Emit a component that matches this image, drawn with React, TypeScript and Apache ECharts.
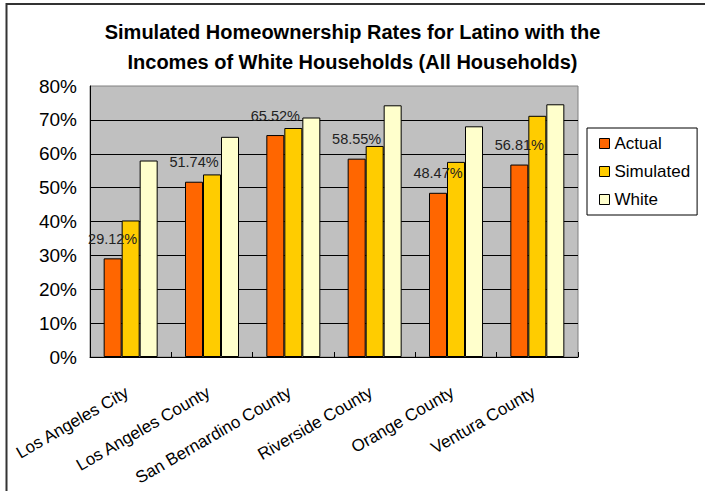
import React, { useEffect, useRef } from "react";
import * as echarts from "echarts";

const categories = [
  "Los Angeles City",
  "Los Angeles County",
  "San Bernardino County",
  "Riverside County",
  "Orange County",
  "Ventura County",
];
const actual = [29.12, 51.74, 65.52, 58.55, 48.47, 56.81];
const simulated = [40.3, 53.9, 67.6, 62.3, 57.6, 71.2];
const white = [58.0, 65.0, 70.7, 74.3, 68.1, 74.6];
const seriesNames = ["Actual", "Simulated", "White"];
const seriesColors = ["#FF6600", "#FFCC00", "#FFFFCC"];
const titleLines = [
  "Simulated Homeownership Rates for Latino with the",
  "Incomes of White Households (All Households)",
];

const FONT = "'Liberation Sans', Arial, Helvetica, sans-serif";

export default function App() {
  const ref = useRef<HTMLDivElement>(null);
  useEffect(() => {
    if (!ref.current) return;
    const chart = echarts.init(ref.current, null, { renderer: "svg" });
    const values = [actual, simulated, white];
    chart.setOption({
      animation: false,
      backgroundColor: "#ffffff",
      textStyle: { fontFamily: FONT },
      title: {
        text: titleLines.join("\n"),
        left: "center",
        top: 17,
        padding: [0, 0, 0, 14],
        textStyle: {
          fontFamily: FONT,
          fontSize: 20,
          fontWeight: "bold",
          color: "#000",
          lineHeight: 30,
        },
      },
      graphic: [
        {
          type: "polyline",
          shape: { points: [[6.5, 491], [6.5, 4], [705, 4]] },
          style: { stroke: "#333", lineWidth: 2, fill: null },
          silent: true,
        },
      ],
      legend: {
        orient: "vertical",
        left: 587,
        top: 128,
        padding: [7, 7, 7, 12],
        itemGap: 11,
        itemWidth: 10,
        itemHeight: 10,
        itemTextGap: 5,
        icon: "rect",
        borderColor: "#000",
        borderWidth: 1,
        backgroundColor: "#fff",
        textStyle: { fontFamily: FONT, fontSize: 17, color: "#000" },
        itemStyle: { borderColor: "#000", borderWidth: 1 },
        data: seriesNames,
      },
      grid: {
        left: 90,
        top: 86,
        width: 488,
        height: 271,
        show: true,
        backgroundColor: "#C0C0C0",
        borderColor: "#808080",
        borderWidth: 1,
      },
      xAxis: {
        type: "category",
        data: categories,
        axisLine: { show: true, lineStyle: { color: "#000", width: 1 } },
        axisTick: {
          show: true,
          inside: true,
          length: 5,
          alignWithLabel: false,
          lineStyle: { color: "#000" },
        },
        axisLabel: {
          interval: 0,
          rotate: 30,
          margin: 32,
          padding: [0, 4, 0, 0],
          fontFamily: FONT,
          fontSize: 17,
          color: "#000",
        },
      },
      yAxis: {
        type: "value",
        min: 0,
        max: 80,
        interval: 10,
        axisLine: { show: true, lineStyle: { color: "#000", width: 1 } },
        axisTick: { show: false },
        axisLabel: {
          formatter: "{value}%",
          margin: 13,
          fontFamily: FONT,
          fontSize: 19,
          color: "#000",
        },
        splitLine: {
          show: true,
          showMaxLine: false,
          lineStyle: { color: "#000", width: 1 },
        },
      },
      series: seriesNames.map((name, i) => ({
        name,
        type: "bar",
        data: values[i],
        barWidth: 18,
        barGap: "0%",
        itemStyle: { color: seriesColors[i], borderColor: "#000", borderWidth: 1 },
        label:
          i === 0
            ? {
                show: true,
                position: "top",
                distance: 12,
                formatter: (p: any) => p.value.toFixed(2) + "%",
                fontFamily: FONT,
                fontSize: 14.5,
                color: "#222",
              }
            : { show: false },
      })),
    });
    return () => chart.dispose();
  }, []);
  return (
    <div
      ref={ref}
      style={{ position: "fixed", left: 0, top: 0, width: 705, height: 491 }}
    />
  );
}
